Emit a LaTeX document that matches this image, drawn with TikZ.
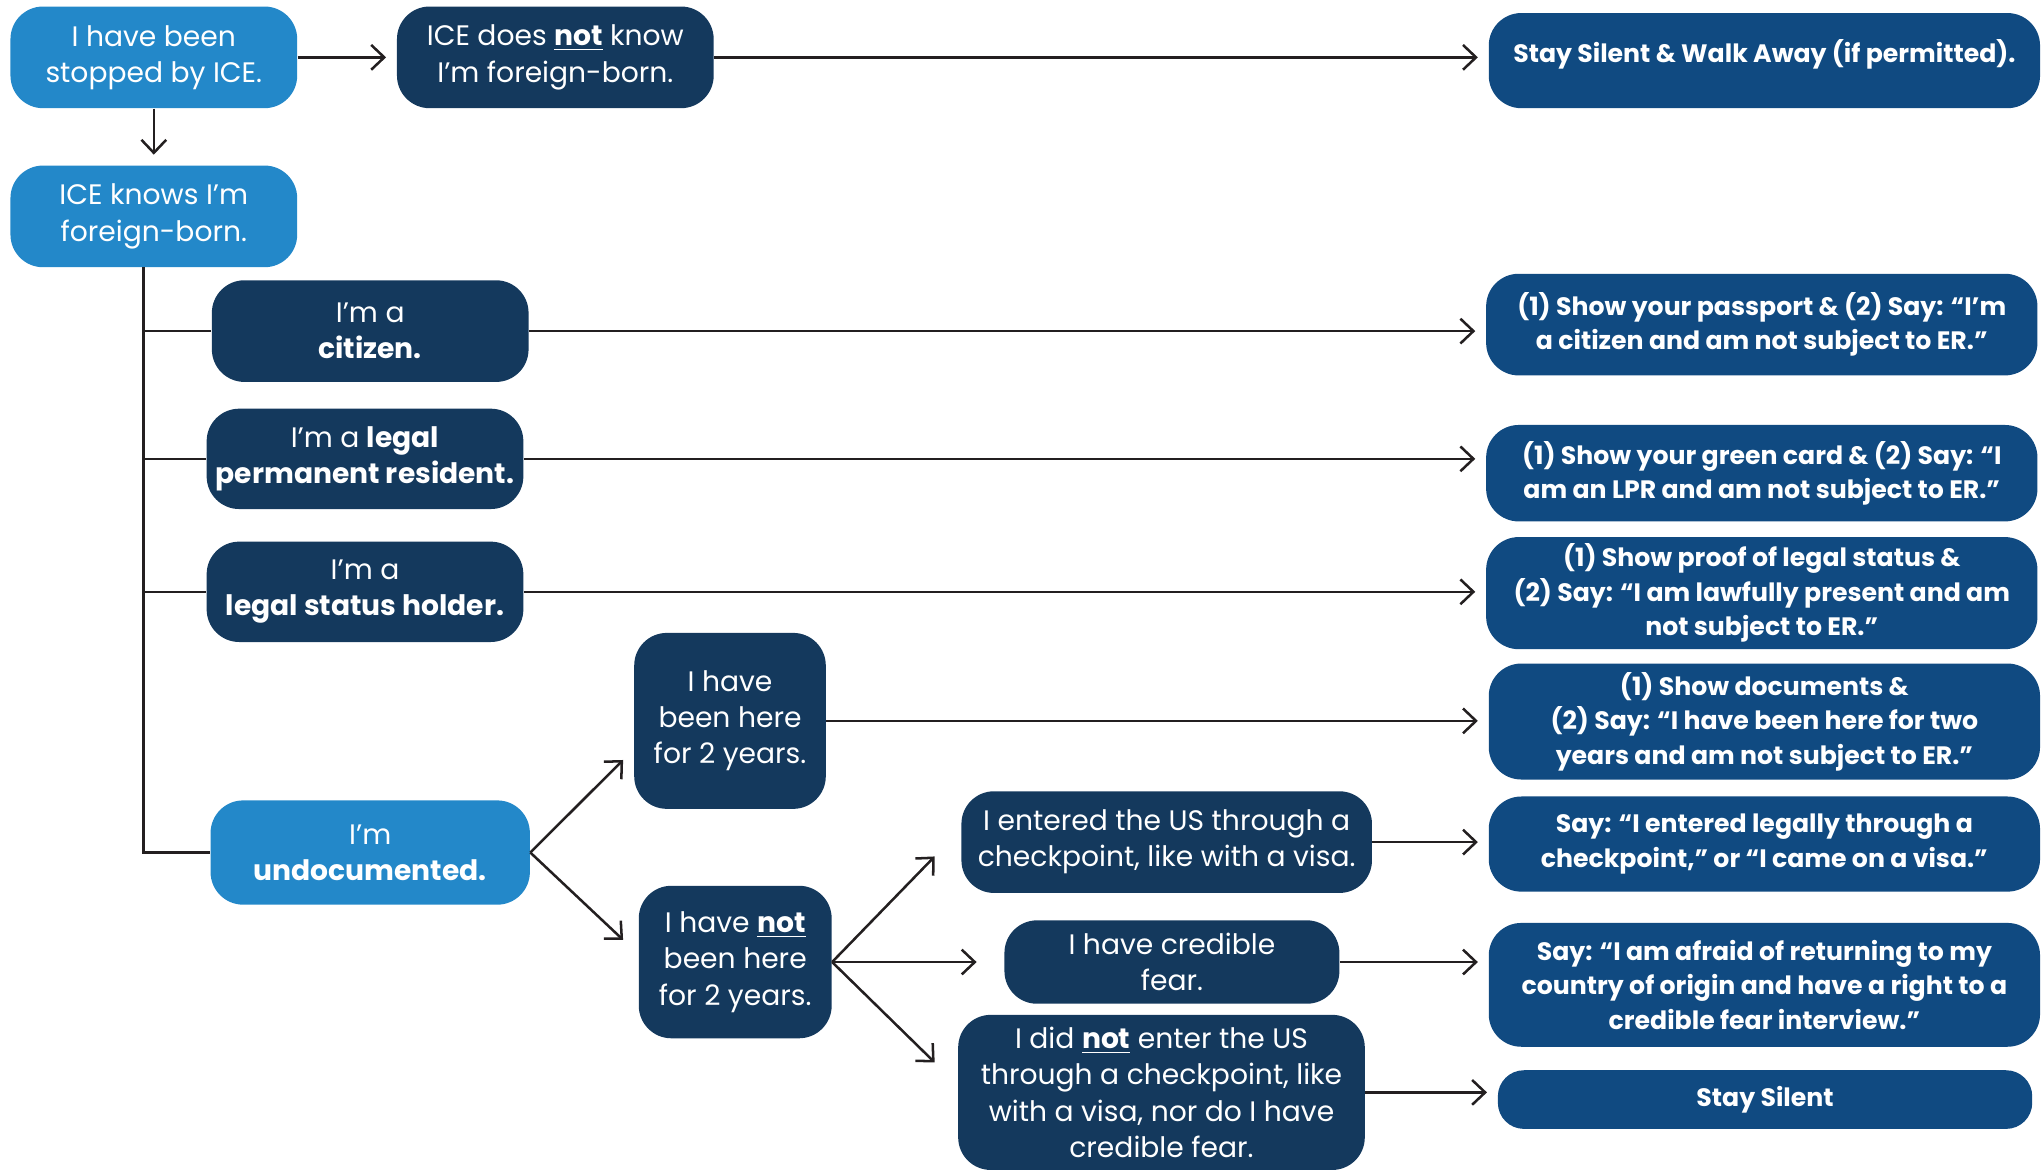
\documentclass[tikz,border=0pt]{standalone}
\usepackage{fontspec}
\setmainfont{Poppins}
\usetikzlibrary{arrows.meta}
\definecolor{iceblue}{RGB}{35,136,201}
\definecolor{icenavy}{RGB}{20,57,93}
\definecolor{iceact}{RGB}{16,74,129}
\definecolor{linecol}{RGB}{35,31,32}
\newcommand{\askfont}{\fontsize{12.3}{15.8}\selectfont}
\newcommand{\actfont}{\fontsize{11}{15}\selectfont\bfseries}
\begin{document}
\begin{tikzpicture}[x=0.02cm, y=-0.02cm, >={Straight Barb[length=0.2cm,width=0.38cm]},
    box/.style={rounded corners=0.5cm, text=white, align=center, inner sep=2pt, font=\askfont},
    startbox/.style={box, fill=iceblue},
    askbox/.style={box, fill=icenavy},
    actbox/.style={box, fill=iceact, font=\actfont, minimum width=8.46cm},
    link/.style={line width=1.1pt, draw=linecol},
    arrow/.style={link, ->, shorten >=0.16cm}]
    \useasboundingbox (0,0) rectangle (1568,898);
    % questions
    \node[startbox, minimum width=4.4cm, minimum height=1.56cm] (stopped) at (118,44) {I have been\\stopped by ICE.};
    \node[askbox, minimum width=4.86cm, minimum height=1.56cm] (notknow) at (426,44) {ICE does \underline{\textbf{not}} know\\I’m foreign-born.};
    \node[startbox, minimum width=4.4cm, minimum height=1.56cm] (knows) at (118,166) {ICE knows I’m\\foreign-born.};
    \node[askbox, minimum width=4.86cm, minimum height=1.56cm] (citizen) at (284,254) {I’m a\\\textbf{citizen.}};
    \node[askbox, minimum width=4.86cm, minimum height=1.54cm] (lpr) at (280,352) {I’m a \textbf{legal}\\\textbf{permanent resident.}};
    \node[askbox, minimum width=4.86cm, minimum height=1.54cm] (status) at (280,454) {I’m a\\\textbf{legal status holder.}};
    \node[startbox, minimum width=4.9cm, minimum height=1.6cm] (undoc) at (284,654) {I’m\\\textbf{undocumented.}};
    \node[askbox, minimum width=2.94cm, minimum height=2.7cm] (here) at (560,553) {I have\\been here\\for 2 years.};
    \node[askbox, minimum width=2.96cm, minimum height=2.34cm] (nothere) at (564,738) {I have \underline{\textbf{not}}\\been here\\for 2 years.};
    \node[askbox, minimum width=6.3cm, minimum height=1.56cm] (checkpoint) at (895,646) {I entered the US through a\\checkpoint, like with a visa.};
    \node[askbox, minimum width=5.14cm, minimum height=1.28cm] (fear) at (899,738) {I have credible\\fear.};
    \node[askbox, minimum width=6.24cm, minimum height=2.38cm] (nocheck) at (891,838) {I did \underline{\textbf{not}} enter the US\\through a checkpoint, like\\with a visa, nor do I have\\credible fear.};
    % answers
    \node[actbox, minimum height=1.46cm, text depth=8.5pt] (walkaway) at (1353.5,46.5) {Stay Silent \& Walk Away (if permitted).};
    \node[actbox, minimum height=1.56cm] (passport) at (1351.5,249) {(1) Show your passport \& (2) Say: “I’m\\a citizen and am not subject to ER.”};
    \node[actbox, minimum height=1.48cm] (greencard) at (1351.5,363) {(1) Show your green card \& (2) Say: “I\\am an LPR and am not subject to ER.”};
    \node[actbox, minimum height=1.72cm] (proof) at (1351.5,455) {(1) Show proof of legal status \&\\(2) Say: “I am lawfully present and am\\not subject to ER.”};
    \node[actbox, minimum height=1.78cm] (documents) at (1353.5,553.5) {(1) Show documents \&\\(2) Say: “I have been here for two\\years and am not subject to ER.”};
    \node[actbox, minimum height=1.46cm] (legally) at (1353.5,647.5) {Say: “I entered legally through a\\checkpoint,” or “I came on a visa.”};
    \node[actbox, minimum height=1.9cm] (afraid) at (1353.5,755.5) {Say: “I am afraid of returning to my\\country of origin and have a right to a\\credible fear interview.”};
    \node[actbox, minimum width=8.2cm, minimum height=0.9cm, rounded corners=0.4cm] (silent) at (1354,843.5) {Stay Silent};
    % connectors
    \draw[arrow] (stopped) -- (notknow);
    \draw[arrow] (notknow.east) -- (notknow.east -| walkaway.west);
    \draw[arrow] (stopped) -- (knows);
    \coordinate (trunk) at (110,205);
    \draw[link] (trunk) |- (undoc.west);
    \draw[link] (trunk |- citizen.west) -- (citizen.west);
    \draw[link] (trunk |- lpr.west) -- (lpr.west);
    \draw[link] (trunk |- status.west) -- (status.west);
    \draw[arrow] (citizen.east) -- (citizen.east -| passport.west);
    \draw[arrow] (lpr.east) -- (lpr.east -| greencard.west);
    \draw[arrow] (status.east) -- (status.east -| proof.west);
    \coordinate (toup) at (478,583);
    \coordinate (todown) at (478,721);
    \draw[link,->] (undoc.east) -- (toup);
    \draw[link,->] (undoc.east) -- (todown);
    \draw[arrow] (here.east) -- (here.east -| documents.west);
    \coordinate (toentered) at (717,657);
    \coordinate (tonotentered) at (717,815);
    \draw[link,->] (nothere.east) -- (toentered);
    \draw[arrow, shorten >=0.42cm] (nothere.east) -- (nothere.east -| fear.west);
    \draw[link,->] (nothere.east) -- (tonotentered);
    \draw[arrow] (checkpoint.east) -- (checkpoint.east -| legally.west);
    \draw[arrow] (fear.east) -- (fear.east -| afraid.west);
    \draw[arrow] (nocheck.east) -- (nocheck.east -| silent.west);
\end{tikzpicture}
\end{document}
